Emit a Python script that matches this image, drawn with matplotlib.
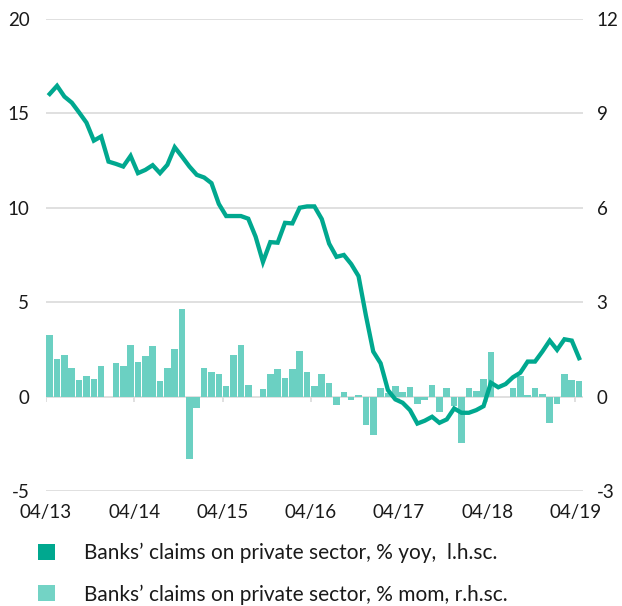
import matplotlib
matplotlib.use("Agg")
import matplotlib.pyplot as plt
from matplotlib.patches import Patch
import numpy as np

plt.rcParams['font.family'] = ['Lato', 'DejaVu Sans']
plt.rcParams['axes.unicode_minus'] = False

# monthly data, 04/2013 .. 04/2019
yoy = [16.02, 16.45, 15.88, 15.56, 15.04, 14.5, 13.55, 13.77, 12.44, 12.32,
       12.18, 12.74, 11.83, 12.0, 12.25, 11.83, 12.27, 13.2, 12.7, 12.18,
       11.74, 11.6, 11.3, 10.2, 9.56, 9.56, 9.56, 9.42, 8.47, 7.13,
       8.18, 8.15, 9.2, 9.17, 10.0, 10.07, 10.07, 9.4, 8.1, 7.4,
       7.5, 7.02, 6.38, 4.3, 2.39, 1.77, 0.35, -0.14, -0.32, -0.71,
       -1.42, -1.27, -1.06, -1.38, -1.2, -0.62, -0.85, -0.85, -0.71, -0.5,
       0.74, 0.5, 0.67, 1.03, 1.27, 1.86, 1.86, 2.39, 2.97, 2.48,
       3.04, 2.97, 2.04]

mom = [1.96, 1.19, 1.34, 0.91, 0.53, 0.65, 0.57, 0.99, 0.0, 1.07,
       0.99, 1.64, 1.11, 1.29, 1.61, 0.50, 0.91, 1.52, 2.78, -1.97,
       -0.37, 0.91, 0.77, 0.72, 0.34, 1.34, 1.64, 0.38, 0.0, 0.26,
       0.72, 0.88, 0.61, 0.88, 1.45, 0.80, 0.34, 0.72, 0.42, -0.25,
       0.15, -0.10, 0.07, -0.90, -1.21, 0.27, 0.12, 0.34, 0.15, 0.30,
       -0.22, -0.10, 0.38, -0.49, 0.27, -0.30, -1.48, 0.27, 0.18, 0.57,
       1.42, 0.0, 0.0, 0.27, 0.65, 0.05, 0.27, 0.08, -0.83, -0.22,
       0.72, 0.53, 0.50]

tick_labels = ['04/13', '04/14', '04/15', '04/16', '04/17', '04/18', '04/19']
left_ticks = [-5, 0, 5, 10, 15, 20]
right_ticks = [-3, 0, 3, 6, 9, 12]

label_yoy = "Banks\u2019 claims on private sector, % yoy,  l.h.sc."
label_mom = "Banks\u2019 claims on private sector, % mom, r.h.sc."

c_line = '#00A88F'
c_bar = '#6BD0C2'
c_grid = '#DADADA'
c_text = '#1A1A1A'

x = np.arange(len(yoy)) + 0.5
tick_pos = np.arange(len(tick_labels)) * 12

fig = plt.figure(figsize=(6.22, 6.06), dpi=100)
ax_r = fig.add_axes([0.074, 0.1894, 0.863, 0.7797])
ax_l = ax_r.twinx()
ax_l.yaxis.tick_left()
ax_r.yaxis.tick_right()
ax_l.set_zorder(ax_r.get_zorder() + 1)
ax_l.patch.set_visible(False)

# bars (right scale)
ax_r.bar(x, mom, width=0.9, color=c_bar, zorder=2)
ax_r.set_ylim(-3, 12)
ax_r.set_yticks(right_ticks)
for t in right_ticks:
    ax_r.axhline(t, color=c_grid, lw=1.2, zorder=1)

# line (left scale)
ax_l.plot(x, yoy, color=c_line, lw=3.1, solid_joinstyle='miter', zorder=3)
ax_l.set_ylim(-5, 20)
ax_l.set_yticks(left_ticks)
ax_l.vlines(tick_pos, -0.27, 0, color=c_grid, lw=1.2)

ax_r.set_xlim(0, 73)
ax_r.set_xticks(tick_pos)
ax_r.set_xticklabels(tick_labels)

for a in (ax_l, ax_r):
    for s in a.spines.values():
        s.set_visible(False)
ax_r.tick_params(axis='x', length=0, pad=9, labelsize=13.5, labelcolor=c_text)
ax_r.tick_params(axis='y', length=0, pad=10, labelsize=13.5, labelcolor=c_text)
ax_l.tick_params(axis='y', length=0, pad=12, labelsize=13.5, labelcolor=c_text)

handles = [Patch(facecolor=c_line, edgecolor='none', label=label_yoy),
           Patch(facecolor='#73D3C5', edgecolor='none', label=label_mom)]
fig.legend(handles=handles, loc='upper left', bbox_to_anchor=(0.061, 0.104),
           frameon=False, fontsize=15, handlelength=0.8, handleheight=0.8,
           handletextpad=1.4, labelspacing=1.0, borderpad=0, borderaxespad=0,
           labelcolor=c_text)

fig.savefig('out.png', dpi=100)
